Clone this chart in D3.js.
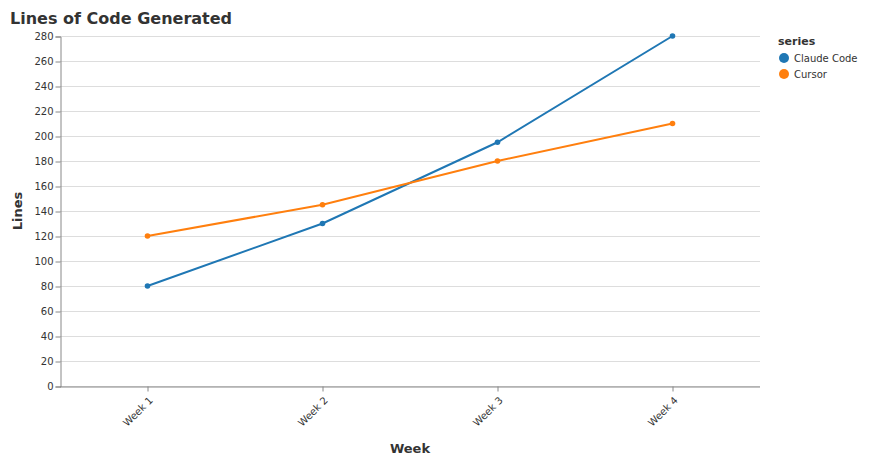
<!DOCTYPE html>
<html>
<head>
<meta charset="utf-8">
<script src="https://cdn.jsdelivr.net/npm/d3@7"></script>
<style>
  body { margin: 0; background: #fff; }
  svg text { font-family: "DejaVu Sans", sans-serif; }
</style>
</head>
<body>
<script>
var weeks = ["Week 1", "Week 2", "Week 3", "Week 4"];
var seriesNames = ["Claude Code", "Cursor"];
var claudeValues = [80, 130, 195, 280];
var cursorValues = [120, 145, 180, 210];
var colors = ["#1f77b4", "#ff7f0e"];
var yTicks = d3.range(0, 281, 20);

(function () {
    var width = 892;
    var height = 465;
    var left = 60, top = 36, plotW = 700, plotH = 350;

    var svg = d3.select("body").append("svg")
        .attr("width", width)
        .attr("height", height);

    var series = [
        { name: seriesNames[0], values: claudeValues, color: colors[0] },
        { name: seriesNames[1], values: cursorValues, color: colors[1] }
    ];

    var xScale = d3.scalePoint()
        .domain(weeks)
        .range([left, left + plotW])
        .padding(0.5);

    var yScale = d3.scaleLinear()
        .domain([0, 280])
        .range([top + plotH, top]);

    // grid
    svg.append("g")
        .selectAll("line")
        .data(yTicks)
        .enter()
        .append("line")
        .attr("x1", left)
        .attr("x2", left + plotW)
        .attr("y1", function (d) { return yScale(d) + 0.5; })
        .attr("y2", function (d) { return yScale(d) + 0.5; })
        .attr("stroke", "#ddd");

    // y axis
    var yAxis = svg.append("g")
        .attr("transform", "translate(" + (left + 0.5) + ",0.5)")
        .call(d3.axisLeft(yScale).tickValues(yTicks).tickSize(5).tickPadding(2));
    yAxis.select(".domain").attr("stroke", "#888");
    yAxis.selectAll(".tick line").attr("stroke", "#888");
    yAxis.selectAll("text")
        .attr("font-size", "10px")
        .attr("fill", "#333")
        .style("font-family", "DejaVu Sans, sans-serif");

    // x axis
    var xAxis = svg.append("g")
        .attr("transform", "translate(0," + (top + plotH + 0.5) + ")")
        .call(d3.axisBottom(xScale).tickSize(5).tickSizeOuter(0));
    xAxis.select(".domain").attr("stroke", "#888").attr("d", "M" + left + ",0.5H" + (left + plotW));
    xAxis.selectAll(".tick line").attr("stroke", "#888");
    xAxis.selectAll("text")
        .attr("font-size", "10px")
        .attr("fill", "#333")
        .attr("text-anchor", "end")
        .attr("dy", "0.35em")
        .attr("transform", "translate(3,12) rotate(-45)")
        .attr("y", 0)
        .attr("x", 0)
        .style("font-family", "DejaVu Sans, sans-serif");

    // axis titles
    svg.append("text")
        .attr("x", left + plotW / 2)
        .attr("y", 452.5)
        .attr("text-anchor", "middle")
        .attr("font-size", "13px")
        .attr("font-weight", "bold")
        .attr("fill", "#333")
        .text("Week");

    svg.append("text")
        .attr("transform", "translate(22," + (top + plotH / 2) + ") rotate(-90)")
        .attr("text-anchor", "middle")
        .attr("font-size", "13px")
        .attr("font-weight", "bold")
        .attr("fill", "#333")
        .text("Lines");

    // title
    svg.append("text")
        .attr("x", 10)
        .attr("y", 23.5)
        .attr("font-size", "16px")
        .attr("font-weight", "bold")
        .attr("fill", "#333")
        .text("Lines of Code Generated");

    // lines
    var line = d3.line()
        .x(function (d, i) { return xScale(weeks[i]); })
        .y(function (d) { return yScale(d); });

    series.forEach(function (s) {
        svg.append("path")
            .datum(s.values)
            .attr("fill", "none")
            .attr("stroke", s.color)
            .attr("stroke-width", 2)
            .attr("d", line);

        svg.append("g")
            .selectAll("circle")
            .data(s.values)
            .enter()
            .append("circle")
            .attr("cx", function (d, i) { return xScale(weeks[i]); })
            .attr("cy", function (d) { return yScale(d); })
            .attr("r", 2.8)
            .attr("fill", s.color);
    });

    // legend
    var legend = svg.append("g").attr("transform", "translate(778,45)");
    legend.append("text")
        .attr("x", 0)
        .attr("y", 0)
        .attr("font-size", "11px")
        .attr("font-weight", "bold")
        .attr("fill", "#333")
        .text("series");

    series.forEach(function (s, i) {
        var g = legend.append("g").attr("transform", "translate(0," + (13 + i * 16) + ")");
        g.append("circle")
            .attr("cx", 6)
            .attr("cy", 0)
            .attr("r", 5)
            .attr("fill", s.color);
        g.append("text")
            .attr("x", 16)
            .attr("y", 3.5)
            .attr("font-size", "10px")
            .attr("fill", "#333")
            .text(s.name);
    });
})();
</script>
</body>
</html>
